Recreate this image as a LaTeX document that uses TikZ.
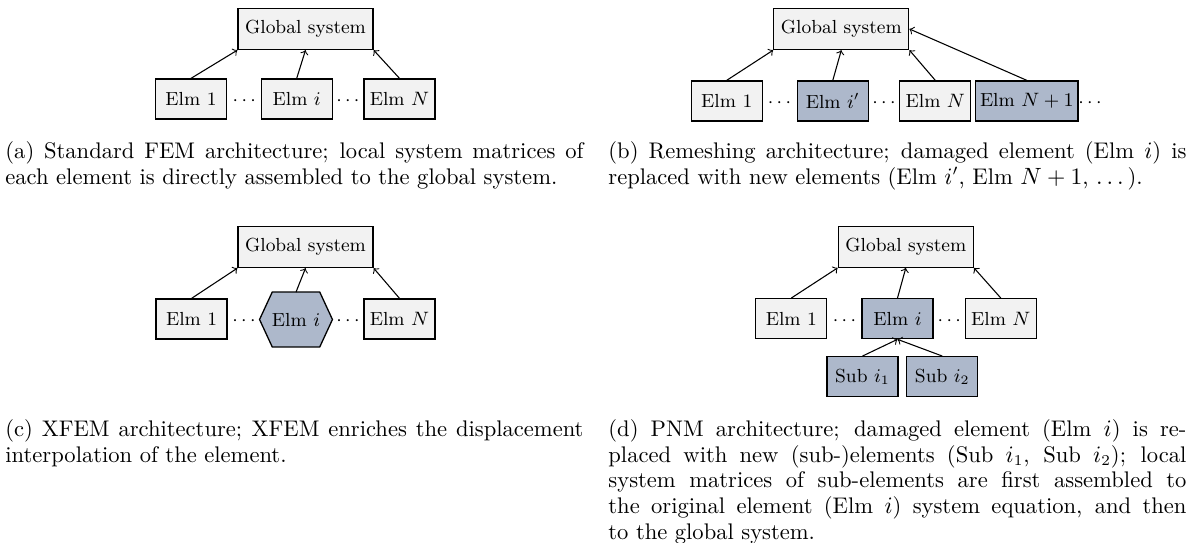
\documentclass[tikz,border=0pt]{standalone}
\usetikzlibrary{calc}
\definecolor{boxgray}{HTML}{F2F2F2}
\definecolor{boxblue}{HTML}{ADB8CB}
\pgfdeclarelayer{background}
\pgfsetlayers{background,main}
\newcommand{\boxfont}{\fontsize{8.8pt}{10.5pt}\selectfont}
\newcommand{\capfont}{\fontsize{10.5pt}{12pt}\selectfont}
\begin{document}
\begin{tikzpicture}[x=0.465pt,y=-0.465pt,
  elm/.style={draw, line width=0.6pt, fill=boxgray, font=\boxfont, inner xsep=2pt, minimum width=33pt, minimum height=18.6pt},
  glob/.style={draw, line width=0.6pt, fill=boxgray, font=\boxfont, inner xsep=2pt, minimum width=62.8pt, minimum height=19.1pt},
  newelm/.style={elm, fill=boxblue},
  dotsnode/.style={font=\boxfont, inner sep=0pt, anchor=base},
  conn/.style={->, line width=0.5pt},
  captext/.style={anchor=north west, inner sep=0pt, text width=268.8pt, align=justify, font=\capfont}]
\useasboundingbox (0,0) rectangle (1196,543);

% ---------- (a) ----------
\node[glob] (Ga) at (305.5,29) {Global system};
\node[elm] (E1a) at (191,99) {Elm 1};
\node[elm] (Eia) at (296.7,99) {Elm $i$};
\node[elm] (ENa) at (399.5,99) {Elm $N$};
\node[dotsnode] (d1a) at (244.3,0 |- E1a.base) {$\cdots$};
\node[dotsnode] (d2a) at (347.9,0 |- E1a.base) {$\cdots$};
\draw[conn] (E1a.north) -- (Ga.south west);
\draw[conn] (Eia.north) -- (Ga.south);
\draw[conn] (ENa.north) -- (Ga.south east);
\node[captext] (capa) at (5,141) {(a) Standard FEM architecture; local system matrices of\linebreak each element is directly assembled to the global system.};

% ---------- (b) ----------
\node[glob] (Gb) at (841.3,29) {Global system};
\node[elm] (E1b) at (726.7,101) {Elm 1};
\node[newelm] (Eib) at (832.8,101) {Elm $i'$};
\node[elm] (ENb) at (935.3,101) {Elm $N$};
\node[newelm] (EN1b) at (1026.8,101) {Elm $N+1$};
\node[dotsnode] (d1b) at (779.5,0 |- E1b.base) {$\cdots$};
\node[dotsnode] (d2b) at (884,0 |- E1b.base) {$\cdots$};
\node[dotsnode] (d3b) at (1090,0 |- E1b.base) {$\cdots$};
\draw[conn] (E1b.north) -- (Gb.south west);
\draw[conn] (Eib.north) -- (Gb.south);
\draw[conn] (ENb.north) -- (Gb.south east);
\draw[conn] (EN1b.north) -- (Gb.east);
\node[captext] (capb) at (608,141) {(b) Remeshing architecture; damaged element (Elm $i$) is\linebreak replaced with new elements (Elm $i'$, Elm $N+1$, $\ldots\,$).};

% ---------- (c) ----------
\node[glob] (Gc) at (305.5,247) {Global system};
\node[elm] (E1c) at (191.6,319) {Elm 1};
\node[font=\boxfont, minimum width=33.5pt, minimum height=25.1pt, inner sep=0pt] (Hc) at (296,319.5) {Elm $i$};
\begin{pgfonlayer}{background}
\draw[fill=boxblue, line width=0.6pt] (Hc.west) -- ([xshift=5.9pt]Hc.north west) -- ([xshift=-5.9pt]Hc.north east)
  -- (Hc.east) -- ([xshift=-5.9pt]Hc.south east) -- ([xshift=5.9pt]Hc.south west) -- cycle;
\end{pgfonlayer}
\node[elm] (ENc) at (399.5,319) {Elm $N$};
\node[dotsnode] (d1c) at (244,0 |- E1c.base) {$\cdots$};
\node[dotsnode] (d2c) at (348,0 |- E1c.base) {$\cdots$};
\draw[conn] (E1c.north) -- (Gc.south west);
\draw[conn] (Hc.north) -- (Gc.south);
\draw[conn] (ENc.north) -- (Gc.south east);
\node[captext] (capc) at (5,419) {(c) XFEM architecture; XFEM enriches the displacement\linebreak interpolation of the element.};

% ---------- (d) ----------
\node[glob] (Gd) at (905.8,246.7) {Global system};
\node[elm] (E1d) at (791.3,318.7) {Elm 1};
\node[newelm] (Eid) at (897.5,318.7) {Elm $i$};
\node[elm] (ENd) at (1000.8,318.7) {Elm $N$};
\node[newelm] (S1d) at (862.5,376.7) {Sub $i_1$};
\node[newelm] (S2d) at (942.3,376.7) {Sub $i_2$};
\node[dotsnode] (d1d) at (844.5,0 |- E1d.base) {$\cdots$};
\node[dotsnode] (d2d) at (949.3,0 |- E1d.base) {$\cdots$};
\draw[conn] (E1d.north) -- (Gd.south west);
\draw[conn] (Eid.north) -- (Gd.south);
\draw[conn] (ENd.north) -- (Gd.south east);
\draw[conn] (S1d.north) -- (Eid.south);
\draw[conn] (S2d.north) -- (Eid.south);
\node[captext] (capd) at (608,419) {(d) PNM architecture; damaged element (Elm $i$) is re-\linebreak placed with new (sub-)elements (Sub $i_1$, Sub $i_2$); local\linebreak system matrices of sub-elements are first assembled to\linebreak the original element (Elm $i$) system equation, and then\linebreak to the global system.};
\end{tikzpicture}
\end{document}
